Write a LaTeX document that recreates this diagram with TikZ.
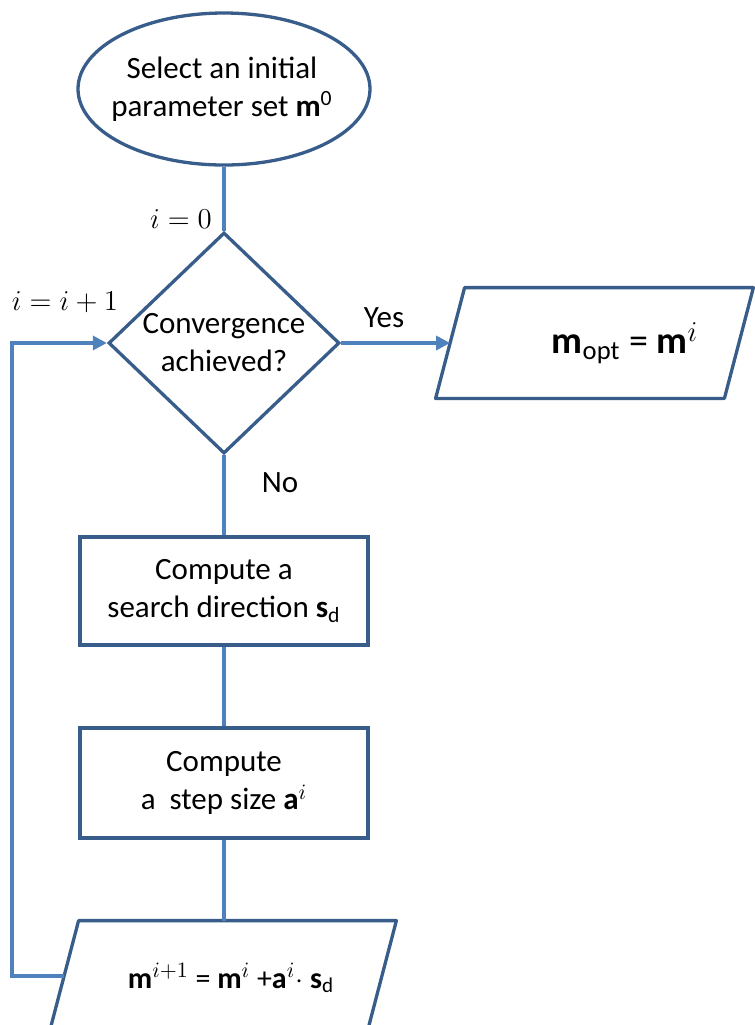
\documentclass[tikz,border=0pt]{standalone}
\usepackage{fontspec}
\setmainfont{Carlito}
\usetikzlibrary{shapes.geometric,arrows.meta}
\definecolor{shapeblue}{HTML}{385D8A}
\definecolor{linkblue}{HTML}{4F81BD}
\begin{document}
\begin{tikzpicture}[x=0.5pt,y=-0.5pt, font=\fontsize{15.5}{19}\selectfont,
  shp/.style={draw=shapeblue, line width=1.65pt, fill=white, align=center, inner sep=0pt},
  body/.style={rectangle, align=center, inner sep=0pt},
  outline/.style={draw=shapeblue, line width=1.65pt, fill=white, line join=round},
  link/.style={draw=linkblue, line width=1.65pt},
  arr/.style={link, -{Triangle[length=7pt,width=7pt]}},
  lbl/.style={inner sep=0pt, align=center}]
\useasboundingbox (0,0) rectangle (755,1025);
\clip (0,0) rectangle (755,1025);
% shapes
\node[shp, ellipse, minimum width=146pt, minimum height=76pt] (start) at (224,89) {};
\node[lbl] (starttext) at (222,89) {Select an initial\\parameter set \textbf{m}\textsuperscript{0}};
\node[shp, diamond, minimum width=115.5pt, minimum height=109.5pt] (conv) at (224,343) {Convergence\\achieved?};
\node[body, minimum width=144pt, minimum height=55pt] (opt) at (594.5,343) {};
\draw[outline] ([xshift=7.25pt]opt.north west) -- ([xshift=7.25pt]opt.north east)
   -- ([xshift=-7.25pt]opt.south east) -- ([xshift=-7.25pt]opt.south west) -- cycle;
\node[lbl, font=\fontsize{19}{23}\selectfont] (opttext) at (625,343) {\textbf{m}\textsubscript{opt} = \textbf{m}$^{i}$};
\node[shp, rectangle, minimum width=144pt, minimum height=54pt] (dir) at (224,591) {Compute a\\search direction \textbf{s}\textsubscript{d}};
\node[shp, rectangle, minimum width=144pt, minimum height=55pt] (step) at (224,783) {Compute\\a\ \ step size \textbf{a}$^{i}$};
\node[body, minimum width=158.5pt, minimum height=55pt] (upd) at (223,976) {};
\draw[outline] ([xshift=7.25pt]upd.north west) -- ([xshift=7.25pt]upd.north east)
   -- ([xshift=-7.25pt]upd.south east) -- ([xshift=-7.25pt]upd.south west) -- cycle;
\node[lbl, font=\fontsize{15}{18}\selectfont] (updtext) at (231,978) {\textbf{m}$^{i+1}$ = \textbf{m}$^{i}$ +\textbf{a}$^{i}\cdot$ \textbf{s}\textsubscript{d}};
% connectors
\coordinate (loopx) at (12,343);
\draw[link] (start.south) -- (conv.north);
\draw[link] (conv.south) -- (dir.north);
\draw[link] (dir.south) -- (step.north);
\draw[link] (step.south) -- (step.south |- upd.north);
\draw[arr] (conv.east) -- (opt.west);
\draw[arr] (upd.west) -- (upd.west -| loopx) |- (conv.west);
% labels
\node[lbl] (l0) at (181,219) {$i=0$};
\node[lbl] (l1) at (65,302) {$i=i+1$};
\node[lbl] (yes) at (384,318) {Yes};
\node[lbl] (no) at (280,483) {No};
\end{tikzpicture}
\end{document}
